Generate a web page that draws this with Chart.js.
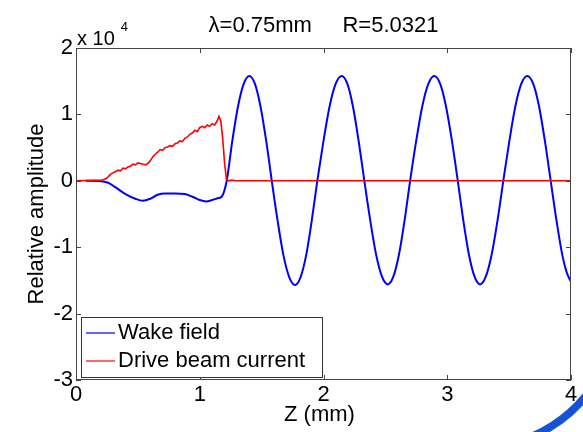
<!DOCTYPE html>
<html>
<head>
<meta charset="utf-8">
<script src="https://cdn.jsdelivr.net/npm/chart.js@4.4.0/dist/chart.umd.min.js"></script>
<style>
  html, body { margin: 0; padding: 0; background: #fff; }
</style>
</head>
<body>
<canvas id="canvas-chart" width="583" height="432"></canvas>
<script>
// values in units of 1e4 (as on the y axis)
const wakeZ = [0.08, 0.2, 0.26, 0.32, 0.40, 0.48, 0.54, 0.60, 0.66, 0.72, 0.80, 0.88, 0.94, 1.00, 1.05, 1.10, 1.15, 1.177,
  1.218, 1.263, 1.309, 1.355, 1.40, 1.446, 1.491, 1.537, 1.582, 1.629, 1.676, 1.723, 1.77, 1.815, 1.86, 1.905,
  1.95, 2.0, 2.049, 2.098, 2.147, 2.193, 2.238, 2.284, 2.33, 2.378, 2.425, 2.472, 2.519, 2.565, 2.61, 2.655,
  2.70, 2.749, 2.798, 2.847, 2.895, 2.943, 2.99, 3.038, 3.085, 3.13, 3.175, 3.22, 3.265, 3.312, 3.359, 3.406,
  3.453, 3.502, 3.55, 3.598, 3.647, 3.695, 3.742, 3.789, 3.836, 3.883, 3.93, 3.965, 4.0];
const wakeVal = [0, -0.005, -0.03, -0.10, -0.20, -0.27, -0.30, -0.27, -0.21, -0.19, -0.19, -0.20, -0.24, -0.29, -0.31, -0.29, -0.26, -0.24,
  0, 0.60, 1.12, 1.46, 1.58, 1.46, 1.12, 0.60, 0, -0.60, -1.12, -1.45, -1.57, -1.45, -1.12, -0.60,
  0, 0.60, 1.12, 1.46, 1.58, 1.46, 1.12, 0.60, 0, -0.60, -1.11, -1.44, -1.56, -1.44, -1.11, -0.60,
  0, 0.60, 1.12, 1.46, 1.58, 1.46, 1.12, 0.60, 0, -0.60, -1.11, -1.44, -1.56, -1.44, -1.11, -0.60,
  0, 0.60, 1.12, 1.46, 1.58, 1.46, 1.12, 0.60, 0, -0.60, -1.12, -1.38, -1.52];

const beamZ = [0, 0.1, 0.2, 0.22, 0.24, 0.26, 0.28, 0.30, 0.32, 0.34, 0.36, 0.38, 0.40, 0.42, 0.44, 0.46, 0.48, 0.50,
  0.52, 0.54, 0.56, 0.58, 0.60, 0.62, 0.64, 0.66, 0.68, 0.70, 0.72, 0.74, 0.76, 0.78, 0.80, 0.82, 0.84, 0.86,
  0.88, 0.90, 0.92, 0.94, 0.96, 0.98, 1.00, 1.02, 1.04, 1.06, 1.08, 1.10, 1.12, 1.14, 1.155, 1.17, 1.185, 1.20,
  1.215, 1.23, 1.26, 1.29, 4.0];
const beamVal = [0, 0.005, 0.01, 0.015, 0.03, 0.06, 0.10, 0.12, 0.14, 0.16, 0.15, 0.19, 0.18, 0.21, 0.22, 0.25, 0.24, 0.27,
  0.26, 0.25, 0.24, 0.26, 0.30, 0.36, 0.40, 0.43, 0.47, 0.46, 0.50, 0.51, 0.53, 0.52, 0.56, 0.57, 0.60, 0.59,
  0.64, 0.66, 0.70, 0.72, 0.76, 0.74, 0.80, 0.82, 0.80, 0.84, 0.82, 0.86, 0.84, 0.90, 0.97, 0.90, 0.65, 0.28,
  0.03, 0, 0.01, 0, 0];

const seriesNames = ['Wake field', 'Drive beam current'];
const titleText = 'λ=0.75mm     R=5.0321';
const xTitle = 'Z (mm)';
const yTitle = 'Relative amplitude';

const FONT = '"Liberation Sans", Arial, sans-serif';

const toPoints = (xs, ys) => xs.map((x, i) => ({x: x, y: ys[i]}));

// box, inward ticks, texts, legend
const matlabFrame = {
  id: 'matlabFrame',
  afterDraw(chart) {
    const ctx = chart.ctx;
    const a = chart.chartArea;
    const sx = chart.scales.x, sy = chart.scales.y;
    ctx.save();
    ctx.strokeStyle = '#444';
    ctx.lineWidth = 1;
    const seg = (x1, y1, x2, y2) => { ctx.beginPath(); ctx.moveTo(x1, y1); ctx.lineTo(x2, y2); ctx.stroke(); };
    sx.ticks.forEach(t => {
      const px = Math.round(sx.getPixelForValue(t.value)) + 0.5;
      seg(px, a.bottom, px, a.bottom - 5);
      seg(px, a.top, px, a.top + 5);
    });
    sy.ticks.forEach(t => {
      const py = Math.round(sy.getPixelForValue(t.value)) + 0.5;
      seg(a.left, py, a.left + 5, py);
      seg(a.right, py, a.right - 5, py);
    });
    ctx.strokeRect(a.left + 0.5, a.top + 0.5, a.right - a.left - 1, a.bottom - a.top - 1);

    // legend
    const lx = a.left + 5, ly = a.bottom - 63;
    ctx.fillStyle = '#fff';
    ctx.fillRect(lx, ly, 241, 60);
    ctx.strokeStyle = '#333';
    ctx.strokeRect(lx + 0.5, ly + 0.5, 241, 60);
    chart.data.datasets.forEach((ds, i) => {
      const yy = ly + 16 + i * 28;
      ctx.strokeStyle = ds.borderColor;
      ctx.lineWidth = 1.2;
      seg(lx + 5, yy, lx + 34, yy);
      ctx.fillStyle = '#000';
      ctx.font = '22px ' + FONT;
      ctx.textAlign = 'left';
      ctx.textBaseline = 'middle';
      ctx.fillText(ds.label, lx + 37, yy);
    });

    // title and axis labels
    ctx.fillStyle = '#000';
    ctx.textBaseline = 'alphabetic';
    ctx.textAlign = 'center';
    ctx.font = '22px ' + FONT;
    ctx.fillText(titleText, (a.left + a.right) / 2, 32);
    ctx.fillText(xTitle, (a.left + a.right) / 2 - 4, 421);
    ctx.save();
    ctx.translate(43, (a.top + a.bottom) / 2);
    ctx.rotate(-Math.PI / 2);
    ctx.fillText(yTitle, 0, 0);
    ctx.restore();

    // exponent
    ctx.textAlign = 'left';
    ctx.font = '20px ' + FONT;
    ctx.fillText('x 10', a.left + 1, 45);
    const w = ctx.measureText('x 10').width;
    ctx.font = '13px ' + FONT;
    ctx.fillText('4', a.left + w + 7, 31);

    // blue arc in the corner
    ctx.strokeStyle = '#1552d6';
    ctx.lineWidth = 8;
    ctx.beginPath();
    ctx.arc(476, 306, 142, 0.45, 1.25);
    ctx.stroke();
    ctx.restore();
  }
};

document.addEventListener('DOMContentLoaded', () => {
  const ctx = document.getElementById('canvas-chart').getContext('2d');
  const myChart = new Chart(ctx, {
    type: 'line',
    data: {
      datasets: [{
        label: seriesNames[0],
        data: toPoints(wakeZ, wakeVal),
        borderColor: '#0000ff',
        borderWidth: 2,
        pointRadius: 0,
        cubicInterpolationMode: 'monotone',
        fill: false,
        order: 1
      }, {
        label: seriesNames[1],
        data: toPoints(beamZ, beamVal),
        borderColor: '#ff0000',
        borderWidth: 1.6,
        pointRadius: 0,
        tension: 0,
        fill: false,
        order: 0
      }]
    },
    options: {
      responsive: false,
      animation: false,
      devicePixelRatio: 1,
      layout: { padding: { top: 48, right: 12, bottom: 0, left: 0 } },
      plugins: {
        legend: { display: false },
        tooltip: { enabled: false },
        title: { display: false }
      },
      scales: {
        x: {
          type: 'linear',
          min: 0,
          max: 4,
          ticks: { stepSize: 1, color: '#000', font: { family: FONT, size: 22 }, padding: 2, maxRotation: 0 },
          grid: { display: false, drawTicks: false },
          border: { display: false },
          afterFit: s => { s.height = 52; }
        },
        y: {
          type: 'linear',
          min: -3,
          max: 2,
          ticks: { stepSize: 1, color: '#000', font: { family: FONT, size: 22 }, padding: 3 },
          grid: { display: false, drawTicks: false },
          border: { display: false },
          afterFit: s => { s.width = 76; }
        }
      }
    },
    plugins: [matlabFrame]
  });
});
</script>
</body>
</html>
